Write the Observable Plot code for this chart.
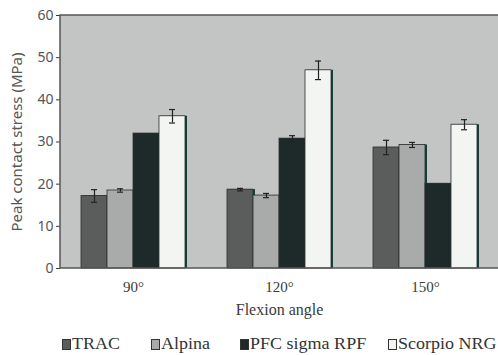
<!DOCTYPE html>
<html><head><meta charset="utf-8">
<script src="https://cdn.jsdelivr.net/npm/d3@7"></script>
<script src="https://cdn.jsdelivr.net/npm/@observablehq/plot@0.6"></script>
<style>
body{margin:0;background:#fff;}
#chart{width:498px;position:relative;}
#chart svg{display:block;}
#legend{height:27px;position:relative;font-family:"Liberation Serif",serif;font-size:17px;color:#333;overflow:hidden;width:498px;}
#legend .item{position:absolute;top:6px;display:flex;align-items:center;white-space:nowrap;}
#legend .sw{width:9px;height:11px;border:1px solid #333;margin-right:1px;box-sizing:border-box;}
#legend span{display:inline-block;transform:scaleX(1.06);transform-origin:left center;}
</style></head><body>
<div id="chart"></div>
<script>
const angles = ["90°", "120°", "150°"];
const series = ["TRAC", "Alpina", "PFC sigma RPF", "Scorpio NRG"];
const trac    = [17.2, 18.7, 28.7];
const alpina  = [18.5, 17.3, 29.3];
const pfc     = [32.0, 30.8, 20.1];
const scorpio = [36.1, 47.0, 34.1];
const tracErr    = [1.5, 0.3, 1.7];
const alpinaErr  = [0.4, 0.5, 0.6];
const pfcErr     = [0, 0.7, 0];
const scorpioErr = [1.6, 2.2, 1.2];
const yTicks = [0, 10, 20, 30, 40, 50, 60];
const colors = ["#5b5d5d", "#a9abab", "#1e2a29", "#f3f5f3"];

const values = [trac, alpina, pfc, scorpio];
const errs = [tracErr, alpinaErr, pfcErr, scorpioErr];
const rows = [];
angles.forEach((a, i) => series.forEach((s, j) =>
  rows.push({angle: a, series: s, value: values[j][i], err: errs[j][i]})));

const W = 498, H = 328, ML = 60, MR = 0, MT = 15, MB = H - 268;
const plot = Plot.plot({
  width: W, height: H,
  marginLeft: ML, marginRight: MR, marginTop: MT, marginBottom: MB,
  style: {background: "transparent", fontFamily: "Liberation Serif, serif", fontSize: "15px", color: "#3a3a3a"},
  facet: {data: rows, x: "angle"},
  fx: {domain: angles, padding: 0, label: "Flexion angle",
       labelAnchor: "center", labelOffset: 46, tickSize: 0, tickPadding: 13},
  x: {domain: series, paddingInner: 0, paddingOuter: 0.734, axis: null},
  y: {domain: [0, 60], ticks: yTicks, label: "Peak contact stress (MPa)", labelAnchor: "center",
      labelOffset: 49, tickSize: 4, tickPadding: 3},
  color: {domain: series, range: colors},
  marks: [
    Plot.barY(rows, {x: "series", y: "value", fill: "#163e38", dx: 2}),
    Plot.barY(rows, {x: "series", y: "value", fill: "series", stroke: "#2b2f2f", strokeWidth: 0.8}),
    Plot.ruleX(rows, {filter: d => d.err > 0, x: "series", y1: d => d.value - d.err, y2: d => d.value + d.err, stroke: "#222", strokeWidth: 1.2}),
    Plot.tickY(rows, {filter: d => d.err > 0, x: "series", y: d => d.value - d.err, stroke: "#222", strokeWidth: 1.2, insetLeft: 10, insetRight: 10}),
    Plot.tickY(rows, {filter: d => d.err > 0, x: "series", y: d => d.value + d.err, stroke: "#222", strokeWidth: 1.2, insetLeft: 10, insetRight: 10})
  ]
});
document.getElementById("chart").appendChild(plot);

// plot-area background and frame
const svg = d3.select(plot);
const yr = plot.scale("y").range;
const yTop = Math.min(...yr), yBot = Math.max(...yr);
svg.insert("rect", ":first-child")
  .attr("x", ML).attr("y", yTop).attr("width", W - ML - MR).attr("height", yBot - yTop)
  .attr("fill", "#c3c4c4");
svg.append("path")
  .attr("d", `M${W - MR},${yTop}H${ML}V${yBot}H${W - MR}`)
  .attr("fill", "none").attr("stroke", "#555").attr("stroke-width", 1.5);
// axis styling
svg.selectAll('[aria-label^="y-axis"] text').attr("font-family", "Noto Sans, sans-serif").attr("fill", "#555").style("font-size", "14px");
svg.selectAll('[aria-label^="y-axis"] line').attr("stroke", "#555");
svg.selectAll("text, tspan").each(function() {
  const t = d3.select(this);
  if (this.childElementCount === 0) {
    const s = t.text();
    if (/[↑↓←→]/.test(s)) t.text(s.replace(/\s*[↑↓←→]\s*/g, ""));
  }
});
svg.selectAll("text").each(function() {
  const t = d3.select(this);
  const s = t.text();
  if (s.includes("Peak")) t.style("font-size", "15px");
  if (s.includes("Flexion")) t.style("font-size", "16px");
});

// legend
const legend = d3.select("body").append("div").attr("id", "legend");
const lx = [62, 151, 240, 388];
series.forEach((s, j) => {
  const it = legend.append("div").attr("class", "item").style("left", lx[j] + "px");
  it.append("div").attr("class", "sw").style("background", colors[j]);
  it.append("span").text(s);
});
</script></body></html>
